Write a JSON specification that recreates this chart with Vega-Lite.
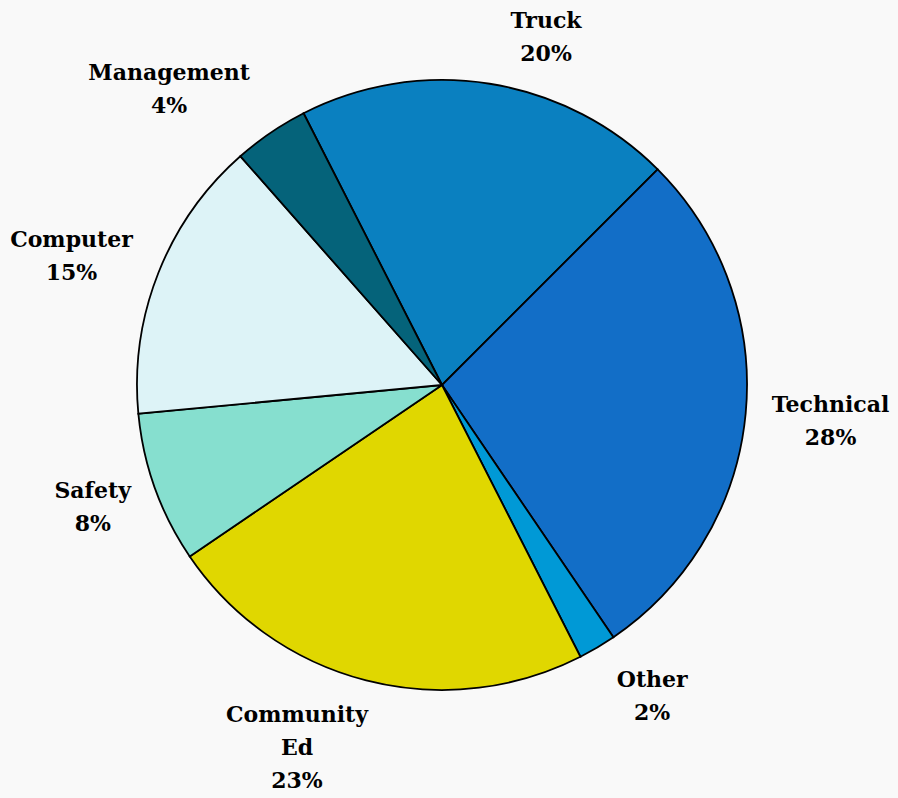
{
  "$schema": "https://vega.github.io/schema/vega-lite/v6.json",
  "width": 884,
  "height": 770,
  "autosize": "none",
  "padding": {"left": 0, "top": 0, "right": 14, "bottom": 28},
  "background": "#F9F9F9",
  "config": {"view": {"stroke": null}, "text": {"font": "DejaVu Serif", "fontWeight": "bold", "fontSize": 22, "lineHeight": 33, "color": "#000000", "baseline": "middle", "align": "center", "lineBreak": "\n"}},
  "data": {
    "values": [
      {"name": "Truck", "value": 20},
      {"name": "Technical", "value": 28},
      {"name": "Other", "value": 2},
      {"name": "Community Ed", "value": 23},
      {"name": "Safety", "value": 8},
      {"name": "Computer", "value": 15},
      {"name": "Management", "value": 4}
    ]
  },
  "transform": [
    {"window": [{"op": "row_number", "as": "k"}]},
    {"stack": "value", "groupby": [], "sort": [{"field": "k", "order": "ascending"}], "as": ["v0", "v1"]},
    {"calculate": "(datum.v0 + datum.v1) / 2", "as": "mid"},
    {"calculate": "replace(datum.name, ' ', '\\n') + '\\n' + datum.value + '%'", "as": "label"}
  ],
  "layer": [
    {
      "mark": {"type": "arc", "radius": 305, "stroke": "#000000", "strokeWidth": 1.8},
      "encoding": {
        "theta": {"field": "v0", "type": "quantitative", "stack": null, "scale": {"domain": [0, 100], "range": [-0.4712, 5.8120]}},
        "theta2": {"field": "v1"},
        "color": {
          "field": "name",
          "type": "nominal",
          "legend": null,
          "scale": {
            "domain": ["Truck", "Technical", "Other", "Community Ed", "Safety", "Computer", "Management"],
            "range": ["#0A80C0", "#126EC7", "#0099D6", "#E0D700", "#86DFCF", "#DDF3F7", "#05637A"]
          }
        }
      }
    },
    {
      "transform": [{"filter": "datum.name == 'Computer'"}],
      "mark": {"type": "text", "radius": 334, "dx": -60, "dy": -22},
      "encoding": {
        "theta": {"field": "mid", "type": "quantitative", "stack": null},
        "text": {"field": "label"}
      }
    },
    {
      "transform": [{"filter": "datum.name == 'Safety'"}],
      "mark": {"type": "text", "radius": 334, "dx": -35, "dy": -7},
      "encoding": {
        "theta": {"field": "mid", "type": "quantitative", "stack": null},
        "text": {"field": "label"}
      }
    },
    {
      "transform": [{"filter": "datum.name == 'Management'"}],
      "mark": {"type": "text", "radius": 352, "dx": -75, "dy": -21},
      "encoding": {
        "theta": {"field": "mid", "type": "quantitative", "stack": null},
        "text": {"field": "label"}
      }
    },
    {
      "transform": [{"filter": "datum.name == 'Technical'"}],
      "mark": {"type": "text", "radius": 330, "dx": 60, "dy": -11},
      "encoding": {
        "theta": {"field": "mid", "type": "quantitative", "stack": null},
        "text": {"field": "label"}
      }
    },
    {
      "transform": [{"filter": "datum.name == 'Other'"}],
      "mark": {"type": "text", "radius": 352, "dx": 31, "dy": -8},
      "encoding": {
        "theta": {"field": "mid", "type": "quantitative", "stack": null},
        "text": {"field": "label"}
      }
    },
    {
      "transform": [{"filter": "datum.name == 'Truck'"}],
      "mark": {"type": "text", "radius": 352, "dx": 49, "dy": -16},
      "encoding": {
        "theta": {"field": "mid", "type": "quantitative", "stack": null},
        "text": {"field": "label"}
      }
    },
    {
      "transform": [{"filter": "datum.name == 'Community Ed'"}],
      "mark": {"type": "text", "radius": 374, "dx": -52, "dy": -32},
      "encoding": {
        "theta": {"field": "mid", "type": "quantitative", "stack": null},
        "text": {"field": "label"}
      }
    }
  ]
}
